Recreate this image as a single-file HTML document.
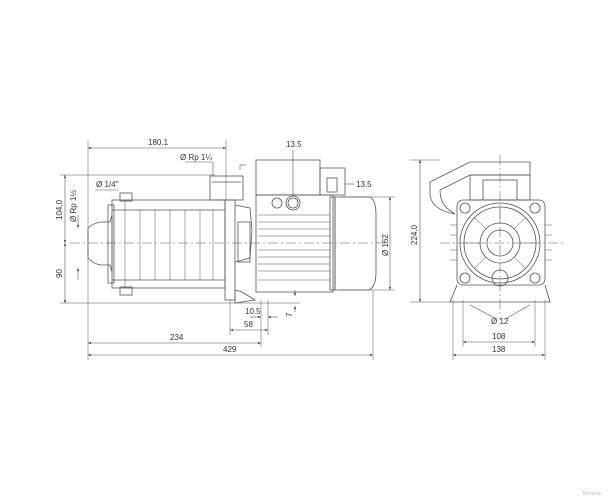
<!DOCTYPE html>
<html><head><meta charset="utf-8"><style>html,body{margin:0;background:#fff}svg{display:block}text{font-family:"Liberation Sans",sans-serif;font-size:8px;fill:#333}</style></head><body>
<svg width="612" height="500" viewBox="0 0 612 500" xmlns="http://www.w3.org/2000/svg">
<defs><marker id="a" viewBox="0 0 6 6" refX="6" refY="3" markerWidth="5" markerHeight="5" orient="auto-start-reverse"><path d="M0,1 L6,3 L0,5z" fill="#333"/></marker></defs>
<g stroke="#555" fill="none" stroke-width="0.8">
<line x1="70" y1="243" x2="385" y2="243" stroke-dasharray="10,3,2,3" stroke-width="0.5"/>
<line x1="440" y1="243" x2="565" y2="243" stroke-dasharray="10,3,2,3" stroke-width="0.5"/>
<line x1="500" y1="155" x2="500" y2="320" stroke-dasharray="10,3,2,3" stroke-width="0.5"/>
<g stroke-width="0.5">
<line x1="88" y1="140" x2="88" y2="360"/><line x1="226" y1="140" x2="226" y2="200"/>
<line x1="60" y1="175" x2="215" y2="175"/><line x1="60" y1="303" x2="300" y2="303"/>
<line x1="230" y1="300" x2="230" y2="335"/><line x1="261" y1="300" x2="261" y2="347"/><line x1="268" y1="300" x2="268" y2="335"/>
<line x1="373" y1="290" x2="373" y2="360"/>
<line x1="340" y1="197" x2="395" y2="197"/><line x1="340" y1="290" x2="395" y2="290"/>
<line x1="410" y1="160" x2="440" y2="160"/><line x1="410" y1="302" x2="450" y2="302"/>
<line x1="463" y1="300" x2="463" y2="347"/><line x1="535" y1="300" x2="535" y2="347"/>
<line x1="453" y1="300" x2="453" y2="360"/><line x1="545" y1="300" x2="545" y2="360"/>
</g>
<g stroke-width="0.6" marker-start="url(#a)" marker-end="url(#a)">
<line x1="88" y1="148" x2="226" y2="148"/>
<line x1="65" y1="175" x2="65" y2="243"/><line x1="65" y1="243" x2="65" y2="303"/>
<line x1="230" y1="330" x2="268" y2="330"/>
<line x1="88" y1="343" x2="261" y2="343"/><line x1="88" y1="355" x2="373" y2="355"/>
<line x1="390" y1="197" x2="390" y2="290"/>
<line x1="420" y1="160" x2="420" y2="302"/>
<line x1="463" y1="342" x2="535" y2="342"/><line x1="453" y1="355" x2="545" y2="355"/>
</g>
<g stroke-width="0.6">
<line x1="78" y1="215" x2="78" y2="228" marker-end="url(#a)"/><line x1="78" y1="280" x2="78" y2="268" marker-end="url(#a)"/>
<line x1="293" y1="150" x2="293" y2="195"/>
<line x1="345" y1="184" x2="354" y2="184"/>
<line x1="185" y1="162" x2="213" y2="162"/><line x1="213" y1="162" x2="213" y2="175"/>
<line x1="240" y1="170" x2="240" y2="165"/><line x1="240" y1="165" x2="246" y2="165"/>
<line x1="95" y1="190" x2="118" y2="190"/>
<line x1="250" y1="317" x2="261" y2="317" marker-end="url(#a)"/><line x1="278" y1="317" x2="268" y2="317" marker-end="url(#a)"/>
<line x1="295" y1="290" x2="295" y2="296" marker-end="url(#a)"/><line x1="295" y1="312" x2="295" y2="306" marker-end="url(#a)"/>
<line x1="470" y1="305" x2="495" y2="318"/><line x1="530" y1="305" x2="507" y2="318"/>
</g>
<path d="M88,228 Q95,222 102,222 L110,222 L112,215 L112,272 L110,265 L102,265 Q95,265 88,258z"/>
<rect x="112" y="200" width="113" height="88"/>
<rect x="108" y="205" width="6" height="78"/>
<line x1="112" y1="210" x2="225" y2="210"/><line x1="112" y1="280" x2="225" y2="280"/>
<g stroke-width="0.5"><line x1="125" y1="200" x2="125" y2="288"/><line x1="140" y1="210" x2="140" y2="280"/><line x1="155" y1="210" x2="155" y2="280"/><line x1="170" y1="210" x2="170" y2="280"/><line x1="185" y1="210" x2="185" y2="280"/><line x1="200" y1="210" x2="200" y2="280"/><line x1="213" y1="210" x2="213" y2="280"/></g>
<rect x="120" y="193" width="12" height="8"/><rect x="120" y="287" width="12" height="8"/>
<rect x="210" y="176" width="33" height="24"/><line x1="212" y1="182" x2="241" y2="182"/>
<rect x="225" y="200" width="10" height="100"/>
<path d="M235,205 L250,208 L252,230 L250,258 L235,262"/>
<rect x="238" y="222" width="12" height="40"/>
<path d="M235,290 L242,292 L255,300 L235,303z"/>
<rect x="256" y="160" width="64" height="35"/>
<rect x="320" y="168" width="25" height="27"/>
<rect x="327" y="178" width="10" height="14"/>
<rect x="256" y="195" width="77" height="97"/>
<circle cx="277" cy="203" r="5"/><circle cx="293" cy="203" r="7"/><circle cx="293" cy="203" r="5"/>
<g stroke-width="0.5"><line x1="258" y1="215" x2="330" y2="215"/><line x1="258" y1="222" x2="330" y2="222"/><line x1="258" y1="229" x2="330" y2="229"/><line x1="258" y1="236" x2="330" y2="236"/><line x1="258" y1="250" x2="330" y2="250"/><line x1="258" y1="257" x2="330" y2="257"/><line x1="258" y1="264" x2="330" y2="264"/><line x1="258" y1="271" x2="330" y2="271"/><line x1="258" y1="280" x2="330" y2="280"/></g>
<rect x="330" y="197" width="5" height="93"/>
<path d="M335,197 L370,197 Q376,200 376,215 L376,272 Q376,288 368,290 L335,290z"/>
<path d="M430,182 L470,162 L530,162 L530,175 L470,175 L440,190 Q440,205 452,212 L455,214 Q432,210 430,195z"/>
<rect x="470" y="175" width="60" height="25"/><rect x="483" y="180" width="34" height="20"/>
<rect x="457" y="200" width="88" height="85" rx="6"/>
<circle cx="500" cy="243" r="40"/><circle cx="500" cy="243" r="36"/>
<circle cx="500" cy="243" r="20"/><circle cx="500" cy="243" r="13"/>
<g stroke-width="0.5"><line x1="500" y1="207" x2="500" y2="223"/><line x1="475" y1="218" x2="486" y2="229"/><line x1="525" y1="218" x2="514" y2="229"/><line x1="465" y1="243" x2="480" y2="243"/><line x1="535" y1="243" x2="520" y2="243"/><line x1="475" y1="268" x2="486" y2="257"/><line x1="525" y1="268" x2="514" y2="257"/></g>
<circle cx="465" cy="208" r="5"/><circle cx="535" cy="208" r="5"/><circle cx="465" cy="278" r="5"/><circle cx="535" cy="278" r="5"/>
<circle cx="500" cy="278" r="8"/>
<path d="M457,285 L450,302 L550,302 L545,285"/>
<g stroke-width="0.5"><line x1="450" y1="225" x2="457" y2="225"/><line x1="450" y1="235" x2="457" y2="235"/><line x1="450" y1="250" x2="457" y2="250"/><line x1="450" y1="260" x2="457" y2="260"/><line x1="545" y1="225" x2="552" y2="225"/><line x1="545" y1="235" x2="552" y2="235"/><line x1="545" y1="250" x2="552" y2="250"/><line x1="545" y1="260" x2="552" y2="260"/></g>
</g>
<text x="148" y="145">180.1</text>
<text x="180" y="160">Ø Rp 1¼</text>
<text x="96" y="187">Ø 1/4"</text>
<text x="286" y="147">13.5</text>
<text x="356" y="187">13.5</text>
<text x="245" y="314">10.5</text>
<text x="244" y="327">58</text>
<text x="170" y="340">234</text>
<text x="223" y="352">429</text>
<text transform="translate(62,220) rotate(-90)">104,0</text>
<text transform="translate(62,278) rotate(-90)">90</text>
<text transform="translate(76,222) rotate(-90)">Ø Rp 1½</text>
<text transform="translate(292,317) rotate(-90)">7</text>
<text transform="translate(388,256) rotate(-90)">Ø 162</text>
<text transform="translate(417,245) rotate(-90)">224,0</text>
<text x="491" y="324">Ø 12</text>
<text x="492" y="339">108</text>
<text x="492" y="352">138</text>
<text x="583" y="495" style="font-size:5px;fill:#bbb">Bemkop</text>
</svg>
</body></html>
